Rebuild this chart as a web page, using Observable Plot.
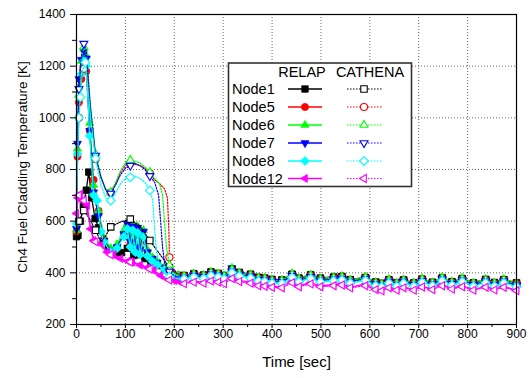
<!DOCTYPE html>
<html><head><meta charset="utf-8">
<script src="https://cdn.jsdelivr.net/npm/d3@7"></script>
<script src="https://cdn.jsdelivr.net/npm/@observablehq/plot@0.6"></script>
<style>
body{margin:0;background:#fff;}
#wrap{position:relative;width:532px;height:378px;}
#wrap svg{position:absolute;left:0;top:0;}
</style></head><body><div id="wrap"></div>
<script>
// ---------- data ----------
const nodes = ["Node1", "Node5", "Node6", "Node7", "Node8", "Node12"];
const colors = ["#000000", "#ff0000", "#00ff00", "#0000ff", "#00ffff", "#ff00ff"];
const xTicks = [0, 100, 200, 300, 400, 500, 600, 700, 800, 900];
const xMinor = [50, 150, 250, 350, 450, 550, 650, 750, 850];
const yTicks = [200, 400, 600, 800, 1000, 1200, 1400];
const yMinor = [300, 500, 700, 900, 1100, 1300];
const xGrid = [100, 200, 300, 400, 500, 600, 700, 800];
const yGrid = [400, 600, 800, 1000, 1200];

const tailTime = [220, 240, 260, 275, 290, 302, 318, 333, 356, 372, 385, 400, 420, 441, 455, 479, 499, 526, 543, 560, 591, 612, 624, 639, 655, 669, 690, 707, 728, 748, 768, 789, 812, 837, 855, 874, 900];

// RELAP early part (time, temperature) and tail temperatures
const R1_t = [0, 3, 8, 14, 20, 25, 31, 38, 45, 55, 65, 78, 92, 104, 117, 128, 140, 152, 165, 180, 195, 208];
const R1_v = [540, 545, 600, 660, 720, 790, 690, 610, 575, 520, 492, 472, 478, 495, 467, 470, 455, 442, 428, 414, 398, 390];
const R1_tail = [390, 397, 392, 404, 398, 390, 415, 402, 395, 383, 380, 375, 373, 395, 380, 393, 380, 384, 386, 374, 382, 365, 360, 374, 362, 373, 362, 376, 364, 381, 366, 378, 362, 375, 363, 374, 362];

const R5_t = [0, 2, 5, 10, 15, 20, 27, 35, 45, 56, 70, 83, 97, 104, 110, 118, 125, 132, 138, 145, 155, 165, 180, 195, 208];
const R5_v = [560, 850, 1060, 1150, 1200, 1180, 950, 760, 640, 530, 488, 500, 545, 575, 510, 560, 495, 540, 525, 470, 455, 440, 420, 398, 390];
const R5_tail = [388, 394, 390, 401, 396, 388, 414, 400, 392, 380, 378, 372, 371, 394, 377, 390, 377, 381, 384, 371, 382, 362, 357, 372, 360, 371, 359, 375, 362, 380, 363, 377, 359, 373, 360, 373, 358];

const R6_t = [0, 2, 5, 10, 15, 20, 27, 35, 45, 56, 70, 83, 97, 104, 110, 115, 120, 125, 130, 137, 145, 155, 165, 180, 195, 208];
const R6_v = [565, 880, 1120, 1220, 1265, 1240, 980, 740, 640, 535, 495, 510, 565, 592, 540, 590, 520, 580, 510, 565, 490, 460, 445, 423, 400, 391];
const R6_tail = [389, 396, 391, 404, 397, 389, 419, 401, 394, 381, 380, 373, 372, 398, 379, 393, 378, 383, 387, 372, 385, 363, 358, 375, 361, 374, 361, 378, 363, 384, 365, 380, 361, 376, 361, 376, 360];

const R7_t = [0, 2, 5, 10, 15, 20, 27, 35, 45, 56, 70, 83, 97, 104, 110, 115, 120, 125, 130, 137, 145, 155, 165, 180, 195, 208];
const R7_v = [570, 900, 1150, 1225, 1260, 1230, 950, 712, 620, 525, 486, 500, 550, 590, 520, 580, 500, 575, 490, 560, 480, 455, 440, 420, 398, 387];
const R7_tail = [384, 392, 387, 398, 392, 384, 418, 396, 389, 376, 374, 368, 367, 394, 374, 388, 374, 378, 382, 368, 380, 358, 353, 370, 356, 369, 356, 373, 358, 379, 360, 375, 356, 371, 356, 371, 354];

const R8_t = [0, 2, 5, 10, 15, 20, 27, 35, 42, 50, 56, 70, 83, 97, 104, 110, 115, 120, 125, 130, 137, 145, 155, 165, 180, 195, 208];
const R8_v = [590, 860, 1080, 1170, 1220, 1200, 930, 700, 680, 560, 520, 480, 495, 540, 570, 500, 565, 480, 555, 470, 540, 465, 445, 430, 412, 392, 382];
const R8_tail = [378, 386, 381, 392, 386, 378, 410, 390, 383, 370, 368, 362, 361, 388, 368, 382, 368, 372, 376, 362, 374, 352, 347, 364, 350, 363, 350, 367, 352, 373, 354, 369, 350, 365, 350, 365, 348];

const R12_t = [0, 3, 8, 15, 22, 29, 35, 49, 63, 76, 90, 105, 114, 130, 145, 158, 172, 185, 200, 210];
const R12_v = [630, 690, 705, 675, 660, 570, 525, 513, 480, 470, 455, 445, 441, 430, 420, 409, 390, 378, 370, 366];
const R12_tail = [362, 368, 363, 372, 368, 362, 385, 370, 365, 355, 352, 348, 346, 368, 350, 362, 350, 354, 358, 345, 356, 338, 333, 346, 336, 345, 336, 348, 338, 355, 340, 350, 336, 347, 337, 347, 333];

// CATHENA
const C1_t = [0, 5, 15, 25, 39, 50, 60, 70, 90, 110, 130, 150, 165, 180, 190, 205];
const C1_v = [555, 600, 641, 615, 565, 520, 545, 578, 597, 608, 580, 525, 486, 448, 420, 396];
const C1_tail = [386, 392, 388, 398, 393, 386, 410, 398, 390, 378, 376, 370, 368, 392, 376, 388, 375, 380, 383, 370, 380, 360, 355, 370, 358, 370, 358, 373, 360, 378, 362, 375, 358, 372, 358, 372, 357];

const C5_t = [0, 2, 5, 10, 15, 20, 28, 39, 50, 60, 70, 80, 90, 100, 110, 120, 130, 140, 150, 160, 170, 180, 186, 189, 190, 195, 205];
const C5_v = [565, 820, 1000, 1150, 1190, 1210, 1040, 840, 770, 722, 710, 745, 790, 815, 825, 820, 815, 805, 785, 760, 745, 725, 690, 560, 460, 420, 395];
const C5_tail = [385, 391, 387, 397, 392, 385, 408, 396, 389, 377, 375, 369, 367, 390, 374, 387, 374, 378, 381, 369, 378, 359, 354, 369, 357, 368, 357, 372, 359, 377, 361, 373, 357, 370, 357, 370, 355];

const C6_t = [0, 2, 5, 10, 15, 20, 28, 39, 50, 60, 70, 80, 90, 100, 110, 120, 130, 140, 150, 160, 170, 176, 180, 184, 190, 197, 205];
const C6_v = [575, 880, 1090, 1230, 1275, 1260, 1060, 860, 775, 725, 712, 750, 795, 825, 837, 832, 825, 810, 790, 765, 745, 700, 600, 500, 430, 402, 392];
const C6_tail = [386, 393, 388, 399, 394, 386, 412, 398, 390, 378, 376, 370, 369, 393, 375, 389, 375, 380, 383, 370, 381, 360, 355, 371, 358, 370, 358, 374, 360, 380, 362, 376, 358, 372, 358, 372, 356];

const C7_t = [0, 2, 5, 10, 15, 20, 28, 39, 50, 60, 70, 80, 90, 100, 110, 120, 130, 140, 150, 160, 168, 172, 176, 180, 190, 197, 205];
const C7_v = [580, 900, 1112, 1240, 1287, 1260, 1050, 854, 770, 720, 707, 740, 780, 805, 815, 823, 815, 800, 775, 750, 700, 600, 500, 440, 405, 392, 385];
const C7_tail = [382, 389, 384, 395, 390, 382, 406, 394, 386, 374, 372, 366, 365, 388, 371, 384, 371, 375, 378, 366, 376, 356, 351, 366, 354, 366, 354, 369, 356, 375, 358, 371, 354, 367, 354, 367, 352];

const C8_t = [0, 2, 5, 8, 12, 18, 24, 30, 39, 50, 60, 70, 80, 90, 100, 110, 120, 130, 140, 150, 156, 160, 164, 170, 178, 190, 205];
const C8_v = [600, 850, 1000, 1080, 1180, 1215, 1100, 980, 843, 740, 690, 680, 710, 745, 765, 770, 775, 765, 750, 719, 680, 560, 480, 430, 400, 385, 378];
const C8_tail = [376, 383, 378, 389, 384, 376, 400, 388, 380, 368, 366, 360, 359, 382, 365, 378, 365, 369, 372, 360, 370, 350, 345, 360, 348, 360, 348, 363, 350, 369, 352, 365, 348, 361, 348, 361, 346];

const C12_t = [0, 5, 10, 15, 22, 30, 39, 50, 60, 70, 90, 110, 120, 135, 150, 160, 172, 190, 200, 210];
const C12_v = [640, 700, 690, 680, 640, 560, 520, 505, 480, 470, 450, 442, 440, 430, 415, 405, 385, 372, 362, 360];
const C12_tail = [358, 364, 360, 368, 364, 358, 378, 366, 360, 350, 348, 344, 342, 362, 346, 357, 346, 350, 353, 342, 350, 335, 330, 342, 333, 342, 333, 345, 335, 350, 337, 346, 333, 344, 334, 344, 331];

// early times at which CATHENA markers are drawn
const cathMarkTimes = [5, 8, 15, 18, 39, 70, 110, 150, 190];

// ---------- symbols ----------
function poly(points) {
  return {draw(ctx, size) {
    const r = Math.sqrt(size / Math.PI);
    points.forEach(([px, py], i) => i ? ctx.lineTo(px * r, py * r) : ctx.moveTo(px * r, py * r));
    ctx.closePath();
  }};
}
function tri(angle) {
  const R = 1.35, pts = [];
  for (let i = 0; i < 3; i++) { const a = angle + i * 2 * Math.PI / 3; pts.push([R * Math.cos(a), R * Math.sin(a)]); }
  return poly(pts);
}
const symSquare = poly([[-0.95, -0.95], [0.95, -0.95], [0.95, 0.95], [-0.95, 0.95]]);
const symCircle = {draw(ctx, size) { const r = Math.sqrt(size / Math.PI) * 1.05; ctx.moveTo(r, 0); ctx.arc(0, 0, r, 0, 2 * Math.PI); }};
const symDiamond = poly([[0, -1.3], [1.3, 0], [0, 1.3], [-1.3, 0]]);
const symbols = [symSquare, symCircle, tri(-Math.PI / 2), tri(Math.PI / 2), symDiamond, tri(Math.PI)];

// ---------- assemble ----------
const relap = [[R1_t, R1_v, R1_tail], [R5_t, R5_v, R5_tail], [R6_t, R6_v, R6_tail], [R7_t, R7_v, R7_tail], [R8_t, R8_v, R8_tail], [R12_t, R12_v, R12_tail]];
const cath = [[C1_t, C1_v, C1_tail], [C5_t, C5_v, C5_tail], [C6_t, C6_v, C6_tail], [C7_t, C7_v, C7_tail], [C8_t, C8_v, C8_tail], [C12_t, C12_v, C12_tail]];
function series(s, markEarly) {
  const [t, v, tail] = s;
  const out = t.map((ti, i) => ({t: ti, v: v[i], mark: markEarly ? markEarly.includes(ti) : true}));
  tailTime.forEach((ti, i) => out.push({t: ti, v: tail[i], mark: true}));
  return out;
}

const marks = [
  Plot.ruleX(xGrid, {stroke: "#666", strokeDasharray: "1,2", strokeWidth: 1}),
  Plot.ruleY(yGrid, {stroke: "#666", strokeDasharray: "1,2", strokeWidth: 1}),
];
relap.forEach((s, k) => {
  const d = series(s, null);
  marks.push(Plot.line(d, {x: "t", y: "v", stroke: colors[k], strokeWidth: 1.3}));
  marks.push(Plot.dot(d, {x: "t", y: "v", symbol: symbols[k], r: 3.4, fill: colors[k], stroke: colors[k], strokeWidth: 0.8}));
});
cath.forEach((s, k) => {
  const d = series(s, cathMarkTimes);
  marks.push(Plot.line(d, {x: "t", y: "v", stroke: colors[k], strokeWidth: 1.2, strokeDasharray: "1.5,1.5"}));
  marks.push(Plot.dot(d.filter(p => p.mark), {x: "t", y: "v", symbol: symbols[k], r: 3.4, fill: "white", stroke: colors[k], strokeWidth: 1.1}));
});
marks.push(
  Plot.frame({stroke: "black", strokeWidth: 1.2}),
  Plot.axisX(xTicks, {tickSize: 4, tickPadding: 1, fontSize: 12, label: null, tickFormat: d3.format("d")}),
  Plot.axisX(xMinor, {tickSize: 3, tickFormat: () => "", label: null}),
  Plot.axisY(yTicks, {tickSize: 6, tickPadding: 5, fontSize: 12, label: null, tickFormat: d3.format("d")}),
  Plot.axisY(yMinor, {tickSize: 4, tickFormat: () => "", label: null}),
  Plot.text(["Time [sec]"], {frameAnchor: "bottom", dy: 42, fontSize: 15, fill: "black"})
);

const chart = Plot.plot({
  width: 532, height: 378,
  marginLeft: 76, marginRight: 16, marginTop: 14, marginBottom: 54,
  x: {domain: [0, 900]},
  y: {domain: [200, 1400]},
  style: {fontFamily: "'Liberation Sans', Arial, sans-serif", background: "white", color: "black"},
  marks
});
const wrap = document.getElementById("wrap");
wrap.appendChild(chart);

// ---------- overlay: y title + legend ----------
const lg = d3.select(wrap).append("svg").attr("width", 532).attr("height", 378)
  .style("font-family", "'Liberation Sans', Arial, sans-serif").style("pointer-events", "none");
lg.append("text").attr("transform", "translate(22,167) rotate(-90)").attr("text-anchor", "middle")
  .attr("dy", "0.36em").attr("font-size", 13.5).text("Ch4 Fuel Cladding Temperature [K]");
lg.append("rect").attr("x", 228.5).attr("y", 63).attr("width", 183).attr("height", 123.5)
  .attr("fill", "white").attr("stroke", "#333").attr("stroke-width", 1.6);
lg.append("text").attr("x", 302).attr("y", 72).attr("dy", "0.36em").attr("text-anchor", "middle").attr("font-size", 14.5).text("RELAP");
lg.append("text").attr("x", 370).attr("y", 72).attr("dy", "0.36em").attr("text-anchor", "middle").attr("font-size", 14.5).text("CATHENA");
const rowY = [89, 107, 125, 143, 161, 178.5];
nodes.forEach((n, k) => {
  const y = rowY[k];
  lg.append("text").attr("x", 232).attr("y", y).attr("dy", "0.36em").attr("font-size", 14.5).text(n);
  lg.append("line").attr("x1", 288).attr("x2", 322).attr("y1", y).attr("y2", y).attr("stroke", colors[k]).attr("stroke-width", 1.3);
  lg.append("path").attr("transform", `translate(305,${y})`).attr("d", d3.symbol(symbols[k], Math.PI * 3.4 * 3.4)())
    .attr("fill", colors[k]).attr("stroke", colors[k]).attr("stroke-width", 0.8);
  lg.append("line").attr("x1", 347).attr("x2", 382).attr("y1", y).attr("y2", y).attr("stroke", colors[k]).attr("stroke-width", 1.2).attr("stroke-dasharray", "1.5,1.5");
  lg.append("path").attr("transform", `translate(364,${y})`).attr("d", d3.symbol(symbols[k], Math.PI * 3.4 * 3.4)())
    .attr("fill", "white").attr("stroke", colors[k]).attr("stroke-width", 1.1);
});
</script></body></html>
